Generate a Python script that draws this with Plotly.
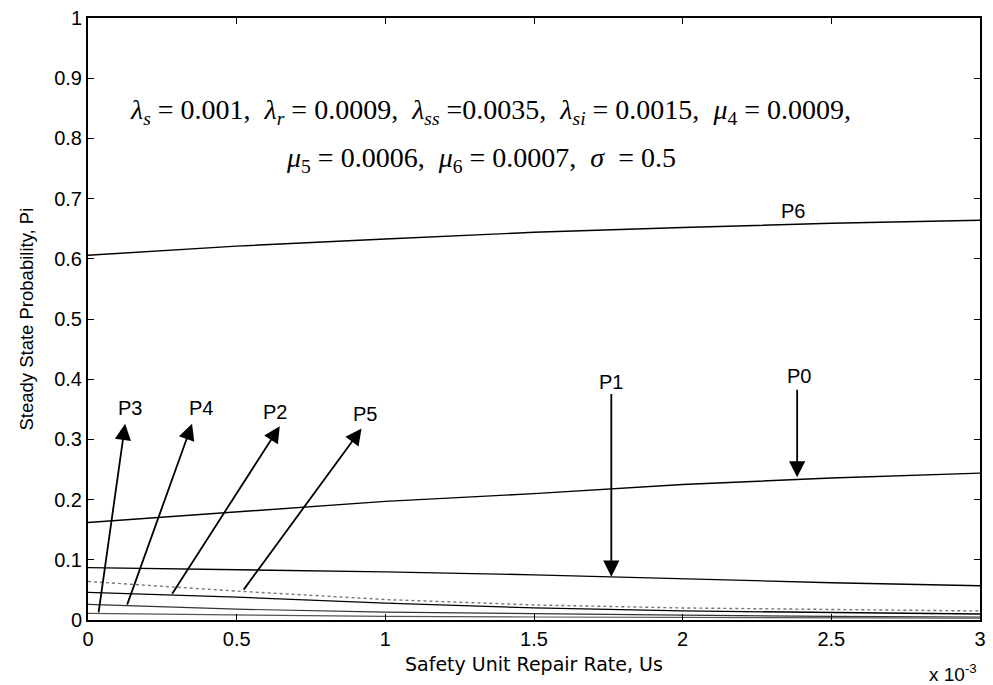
import plotly.graph_objects as go

# ---- data (repair rate in units of 1e-3) ----
x_vals = [0.0, 0.5, 1.0, 1.5, 2.0, 2.5, 3.0]
P6 = [0.606, 0.621, 0.633, 0.644, 0.652, 0.659, 0.664]
P0 = [0.162, 0.180, 0.197, 0.210, 0.225, 0.236, 0.244]
P1 = [0.087, 0.084, 0.080, 0.075, 0.068, 0.062, 0.057]
P5 = [0.064, 0.048, 0.034, 0.025, 0.020, 0.017, 0.015]
P2 = [0.046, 0.038, 0.028, 0.020, 0.015, 0.012, 0.010]
P4 = [0.026, 0.018, 0.013, 0.010, 0.008, 0.006, 0.005]
P3 = [0.011, 0.008, 0.006, 0.005, 0.004, 0.003, 0.003]

x_ticks = [0, 0.5, 1, 1.5, 2, 2.5, 3]
x_ticktext = ["0", "0.5", "1", "1.5", "2", "2.5", "3"]
y_ticks = [0, 0.1, 0.2, 0.3, 0.4, 0.5, 0.6, 0.7, 0.8, 0.9, 1]
y_ticktext = ["0", "0.1", "0.2", "0.3", "0.4", "0.5", "0.6", "0.7", "0.8", "0.9", "1"]

# arrow annotations: label, tail (x,y), head (x,y), label position (x,y)
arrow_names = ["P3", "P4", "P2", "P5", "P1", "P0"]
arrow_tail_x = [0.035, 0.13, 0.28, 0.52, 1.76, 2.385]
arrow_tail_y = [0.010, 0.023, 0.041, 0.048, 0.378, 0.385]
arrow_head_x = [0.125, 0.35, 0.645, 0.92, 1.76, 2.385]
arrow_head_y = [0.326, 0.326, 0.322, 0.318, 0.072, 0.237]
label_x = [0.14, 0.38, 0.63, 0.93, 1.76, 2.39]
label_y = [0.352, 0.352, 0.345, 0.342, 0.395, 0.405]
p6_label = ("P6", 2.37, 0.68)

series = [
    ("P6", P6, "black", "solid", 1.4),
    ("P0", P0, "black", "solid", 1.4),
    ("P1", P1, "black", "solid", 1.4),
    ("P5", P5, "#777777", "dot", 1.4),
    ("P2", P2, "black", "solid", 1.3),
    ("P4", P4, "#333333", "solid", 1.2),
    ("P3", P3, "#555555", "solid", 1.2),
]

fig = go.Figure()
for name, ys, col, dash, w in series:
    fig.add_trace(go.Scatter(x=x_vals, y=ys, mode="lines", name=name,
                             line=dict(color=col, width=w, dash=dash),
                             showlegend=False, hoverinfo="skip"))

sans = "Liberation Sans"
serif = "Liberation Serif"

annotations = []
for n, tx, ty, hx, hy, lx, ly in zip(arrow_names, arrow_tail_x, arrow_tail_y,
                                      arrow_head_x, arrow_head_y, label_x, label_y):
    annotations.append(dict(x=hx, y=hy, ax=tx, ay=ty, xref="x", yref="y",
                            axref="x", ayref="y", text="", showarrow=True,
                            arrowhead=2, arrowsize=1.8, arrowwidth=1.8,
                            arrowcolor="black", standoff=0, startstandoff=0))
    annotations.append(dict(x=lx, y=ly, xref="x", yref="y", text=n,
                            showarrow=False, font=dict(family=sans, size=20, color="black")))
annotations.append(dict(x=p6_label[1], y=p6_label[2], xref="x", yref="y", text=p6_label[0],
                        showarrow=False, font=dict(family=sans, size=20, color="black")))

eq1 = ("<i>λ<sub>s</sub></i> = 0.001,  <i>λ<sub>r</sub></i> = 0.0009,  "
       "<i>λ<sub>ss</sub></i> =0.0035,  <i>λ<sub>si</sub></i> = 0.0015,  "
       "<i>μ</i><sub>4</sub> = 0.0009,")
eq2 = "<i>μ</i><sub>5</sub> = 0.0006,  <i>μ</i><sub>6</sub> = 0.0007,  <i>σ</i>  = 0.5"
annotations.append(dict(x=0.134, y=0.845, xref="x", yref="y", xanchor="left", yanchor="middle",
                        text=eq1, showarrow=False, font=dict(family=serif, size=28, color="black")))
annotations.append(dict(x=0.66, y=0.765, xref="x", yref="y", xanchor="left", yanchor="middle",
                        text=eq2, showarrow=False, font=dict(family=serif, size=28, color="black")))

# axis titles and exponent
annotations.append(dict(x=0.5, y=-0.073, xref="paper", yref="paper", xanchor="center",
                        yanchor="middle", text="Safety Unit Repair Rate, Us", showarrow=False,
                        font=dict(family="DejaVu Sans", size=19, color="black")))
annotations.append(dict(x=-0.070, y=0.5, xref="paper", yref="paper", xanchor="center",
                        yanchor="middle", text="Steady State Probability, Pi", showarrow=False,
                        textangle=-90, font=dict(family=sans, size=18.5, color="black")))
annotations.append(dict(x=0.999, y=-0.088, xref="paper", yref="paper", xanchor="right",
                        yanchor="middle", text="x 10<sup>-3</sup>", showarrow=False,
                        font=dict(family=sans, size=19, color="black")))

fig.update_layout(
    width=993, height=685,
    margin=dict(l=88, r=7, t=16, b=65),
    paper_bgcolor="white", plot_bgcolor="white",
    annotations=annotations,
    xaxis=dict(range=[0, 3], tickvals=x_ticks, ticktext=x_ticktext, ticks="inside",
               ticklen=6, tickwidth=1.2, tickcolor="black", showline=True, linecolor="black",
               linewidth=2, mirror="ticks", showgrid=False, zeroline=False,
               tickfont=dict(family=sans, size=20, color="black")),
    yaxis=dict(range=[0, 1], tickvals=y_ticks, ticktext=y_ticktext, ticks="inside",
               ticklen=6, tickwidth=1.2, tickcolor="black", showline=True, linecolor="black",
               linewidth=2, mirror="ticks", showgrid=False, zeroline=False,
               tickfont=dict(family=sans, size=20, color="black")),
)

fig.write_html("out.html")
